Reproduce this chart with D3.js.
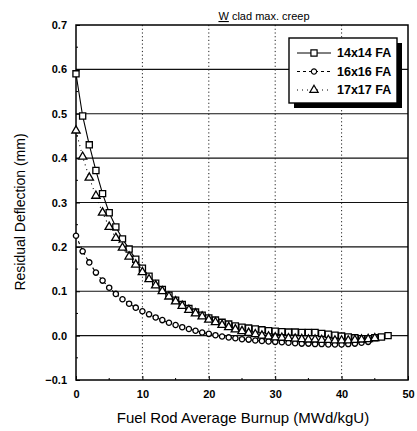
<!DOCTYPE html>
<html>
<head>
<meta charset="utf-8">
<script src="https://cdn.jsdelivr.net/npm/d3@7"></script>
<style>
  body { margin: 0; background: #fff; }
  svg { display: block; font-family: Arial, "Liberation Sans", sans-serif; }
</style>
</head>
<body>
<svg id="drawing_region"></svg>
<script>
// burnup in MWd/kgU, one point per unit
const fa14 = [0.59, 0.495, 0.43, 0.372, 0.32, 0.277, 0.245, 0.218, 0.195, 0.172,
  0.152, 0.134, 0.118, 0.104, 0.091, 0.08, 0.07, 0.061, 0.053, 0.046,
  0.04, 0.035, 0.03, 0.026, 0.022, 0.019, 0.017, 0.015, 0.013, 0.011,
  0.01, 0.009, 0.008, 0.008, 0.007, 0.007, 0.007, 0.005, 0.003, 0.001,
  -0.001, -0.003, -0.005, -0.007, -0.007, -0.005, -0.003, 0.0];
const fa16 = [0.225, 0.19, 0.165, 0.142, 0.124, 0.108, 0.094, 0.082, 0.072, 0.063,
  0.055, 0.048, 0.041, 0.035, 0.029, 0.024, 0.019, 0.015, 0.011, 0.007,
  0.004, 0.001, -0.002, -0.004, -0.006, -0.008, -0.009, -0.011, -0.012, -0.013,
  -0.014, -0.015, -0.016, -0.017, -0.018, -0.018, -0.019, -0.019, -0.02, -0.02,
  -0.02, -0.019, -0.018, -0.016, -0.014];
const fa17 = [0.462, 0.403, 0.356, 0.315, 0.277, 0.245, 0.22, 0.198, 0.178, 0.16,
  0.143, 0.127, 0.113, 0.1, 0.088, 0.077, 0.067, 0.058, 0.05, 0.043,
  0.036, 0.03, 0.024, 0.019, 0.014, 0.01, 0.006, 0.003, 0.0, -0.002,
  -0.004, -0.005, -0.006, -0.007, -0.008, -0.009, -0.009, -0.01, -0.01, -0.011,
  -0.011, -0.011, -0.01, -0.009, -0.008, -0.006];
const xTicks = [0, 10, 20, 30, 40, 50];
const yTicks = [-0.1, 0.0, 0.1, 0.2, 0.3, 0.4, 0.5, 0.6, 0.7];
const seriesNames = ["14x14 FA", "16x16 FA", "17x17 FA"];

const width = 417, height = 431;
const svg = d3.select('#drawing_region')
    .attr('width', width)
    .attr('height', height);

const x = d3.scaleLinear().domain([0, 50]).range([76, 408]);
const y = d3.scaleLinear().domain([-0.1, 0.7]).range([380, 25]);

// grid
svg.append('g')
    .selectAll('line')
    .data(yTicks.slice(1, -1))
    .enter()
    .append('line')
    .attr('x1', x(0)).attr('x2', x(50))
    .attr('y1', d => y(d)).attr('y2', d => y(d))
    .attr('stroke', '#111')
    .attr('stroke-width', 1.2);

svg.append('g')
    .selectAll('line')
    .data(xTicks.slice(1, -1))
    .enter()
    .append('line')
    .attr('x1', d => x(d)).attr('x2', d => x(d))
    .attr('y1', y(0.7)).attr('y2', y(-0.1))
    .attr('stroke', '#222')
    .attr('stroke-width', 1)
    .attr('stroke-dasharray', '1.2,2.5');

// axes, ticks pointing inside
const xAxis = d3.axisBottom(x).tickValues(xTicks).tickSize(-4).tickPadding(10).tickFormat(d3.format('d'));
const yAxis = d3.axisLeft(y).tickValues(yTicks).tickSize(-4).tickPadding(9).tickFormat(d3.format('.1f'));

const gx = svg.append('g').attr('transform', `translate(0,${y(-0.1)})`).call(xAxis);
const gy = svg.append('g').attr('transform', `translate(${x(0)},0)`).call(yAxis);
[gx, gy].forEach(g => {
    g.select('.domain').remove();
    g.selectAll('.tick line').attr('stroke', '#000');
    g.selectAll('.tick text')
        .attr('fill', '#000')
        .style('font-size', '11px')
        .style('font-weight', 'bold');
});

// minor ticks
svg.append('g')
    .selectAll('line')
    .data(d3.range(-0.05, 0.7, 0.1))
    .enter()
    .append('line')
    .attr('x1', x(0)).attr('x2', x(0) + 2)
    .attr('y1', d => y(d)).attr('y2', d => y(d))
    .attr('stroke', '#000');
svg.append('g')
    .selectAll('line')
    .data(d3.range(5, 50, 10))
    .enter()
    .append('line')
    .attr('x1', d => x(d)).attr('x2', d => x(d))
    .attr('y1', y(-0.1)).attr('y2', y(-0.1) - 2)
    .attr('stroke', '#000');

// frame
svg.append('rect')
    .attr('x', x(0)).attr('y', y(0.7))
    .attr('width', x(50) - x(0))
    .attr('height', y(-0.1) - y(0.7))
    .attr('fill', 'none')
    .attr('stroke', '#000')
    .attr('stroke-width', 1.5);

// series
const series = [
    { name: seriesNames[0], values: fa14, dash: null, shape: d3.symbolSquare, size: 38 },
    { name: seriesNames[1], values: fa16, dash: '3,3', shape: d3.symbolCircle, size: 22 },
    { name: seriesNames[2], values: fa17, dash: '1,4', shape: d3.symbolTriangle, size: 30 }
];

const line = d3.line()
    .x((d, i) => x(i))
    .y(d => y(d));

series.forEach(s => {
    svg.append('path')
        .datum(s.values)
        .attr('d', line)
        .attr('fill', 'none')
        .attr('stroke', '#000')
        .attr('stroke-width', 1.1)
        .attr('stroke-dasharray', s.dash);
});

series.forEach(s => {
    svg.append('g')
        .selectAll('path')
        .data(s.values)
        .enter()
        .append('path')
        .attr('d', d3.symbol().type(s.shape).size(s.size))
        .attr('transform', (d, i) => `translate(${x(i)},${y(d)})`)
        .attr('fill', '#fff')
        .attr('stroke', '#000')
        .attr('stroke-width', 1.3);
});

// legend
const lg = svg.append('g').attr('transform', 'translate(289,38)');
lg.append('rect')
    .attr('x', 5).attr('y', 5)
    .attr('width', 108).attr('height', 65)
    .attr('fill', '#000');
lg.append('rect')
    .attr('width', 108).attr('height', 65)
    .attr('fill', '#fff')
    .attr('stroke', '#000')
    .attr('stroke-width', 1.4);

series.forEach((s, i) => {
    const row = lg.append('g').attr('transform', `translate(0,${15 + i * 18.5})`);
    row.append('line')
        .attr('x1', 8).attr('x2', 42)
        .attr('stroke', '#000')
        .attr('stroke-dasharray', s.dash);
    row.append('path')
        .attr('d', d3.symbol().type(s.shape).size(s.size))
        .attr('transform', 'translate(25,0)')
        .attr('fill', '#fff')
        .attr('stroke', '#000')
        .attr('stroke-width', 1.2);
    row.append('text')
        .attr('x', 48)
        .attr('dy', '0.35em')
        .style('font-size', '12.5px')
        .style('font-weight', 'bold')
        .text(s.name);
});

// title and axis labels
const title = svg.append('text')
    .attr('x', 264).attr('y', 20)
    .attr('text-anchor', 'middle')
    .style('font-size', '11px');
title.append('tspan').style('text-decoration', 'underline').text('W');
title.append('tspan').text(' clad max. creep');

svg.append('text')
    .attr('x', 243).attr('y', 423)
    .attr('text-anchor', 'middle')
    .style('font-size', '15px')
    .text('Fuel Rod Average Burnup (MWd/kgU)');

svg.append('text')
    .attr('transform', 'translate(25,212) rotate(-90)')
    .attr('text-anchor', 'middle')
    .style('font-size', '14px')
    .text('Residual Deflection (mm)');
</script>
</body>
</html>
